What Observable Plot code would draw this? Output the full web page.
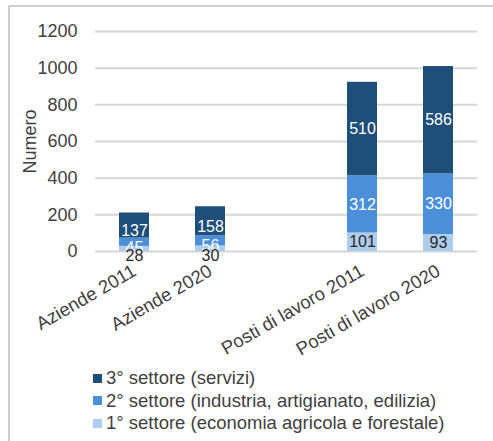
<!DOCTYPE html>
<html>
<head>
<meta charset="utf-8">
<script src="https://cdn.jsdelivr.net/npm/d3@7"></script>
<script src="https://cdn.jsdelivr.net/npm/@observablehq/plot@0.6"></script>
<style>
  html, body { margin: 0; padding: 0; background: #fff; }
  body { width: 493px; height: 441px; position: relative; overflow: hidden; font-family: "Liberation Sans", Arial, sans-serif; }
  #frame { position: absolute; left: 8px; top: 5px; width: 520px; height: 460px; border: 2px solid #cdcdcd; box-sizing: border-box; }
  #chart { position: absolute; left: 0; top: 0; }
  #chart svg { overflow: visible; }
  #chart svg text { font-family: "Liberation Sans", Arial, sans-serif; }
  #legend { position: absolute; left: 93px; top: 367px; font-size: 18.5px; color: #404040; }
  #legend .row { display: flex; align-items: center; height: 22.5px; line-height: 22.5px; white-space: nowrap; }
  #legend .sw { width: 9px; height: 9px; margin-right: 4px; flex: none; }
</style>
</head>
<body>
<div id="frame"></div>
<div id="chart"></div>
<div id="legend"></div>
<script>
// ---- data ----
const categories = ["Aziende 2011", "Aziende 2020", "Posti di lavoro 2011", "Posti di lavoro 2020"];
const sectors = [
  "1° settore (economia agricola e forestale)",
  "2° settore (industria, artigianato, edilizia)",
  "3° settore (servizi)"
];
const settore1 = [28, 30, 101, 93];
const settore2 = [45, 56, 312, 330];
const settore3 = [137, 158, 510, 586];
const yTicks = [0, 200, 400, 600, 800, 1000, 1200];
const colors = ["#aecdee", "#4a8fd8", "#1f4e79"];
const labelColors = ["#262626", "#ffffff", "#ffffff"];

// ---- build table ----
const series = [settore1, settore2, settore3];
const rows = [];
series.forEach((vals, si) => {
  vals.forEach((v, ci) => rows.push({cat: categories[ci], sector: sectors[si], si, value: v}));
});

const GAP = "__gap__";
const xDomain = [categories[0], categories[1], GAP, categories[2], categories[3]];
const font = "Liberation Sans";

const pxPerUnit = (251 - 31) / 1200;
// bottom labels on very thin segments sit a little lower (as in the reference)
const small = d => d.si === 0 && d.value * pxPerUnit < 14;

const chart = Plot.plot({
  width: 493,
  height: 380,
  marginTop: 31,
  marginBottom: 129,
  marginLeft: 95,
  marginRight: 16,
  style: {fontFamily: font, fontSize: "18px", color: "#404040", background: "transparent", overflow: "visible"},
  x: {domain: xDomain, paddingInner: 0.607, paddingOuter: 0.303},
  y: {domain: [0, 1200]},
  color: {domain: sectors, range: colors},
  marks: [
    Plot.gridY(yTicks, {stroke: "#d6d6d6", strokeOpacity: 1, strokeWidth: 2}),
    Plot.barY(rows, {x: "cat", y: "value", z: "sector", fill: "sector", order: sectors}),
    Plot.text(rows, Plot.stackY({
      x: "cat", y: "value", z: "sector", order: sectors,
      text: d => String(d.value),
      fill: d => labelColors[d.si],
      filter: d => !small(d),
      fontSize: 16, fontFamily: font
    })),
    Plot.text(rows, Plot.stackY({
      x: "cat", y: "value", z: "sector", order: sectors,
      text: d => String(d.value),
      fill: d => labelColors[d.si],
      filter: small,
      fontSize: 16, fontFamily: font,
      dy: 7
    })),
    Plot.axisY(yTicks, {
      tickSize: 0, tickPadding: 18, fontSize: 18, fontFamily: font, tickFormat: d => String(d),
      label: "Numero", labelAnchor: "center", labelArrow: "none", labelOffset: 72
    }),
    Plot.axisX({
      tickSize: 0, tickPadding: 18, tickRotate: -30, fontSize: 18.5, fontFamily: font,
      tickFormat: d => d === GAP ? "" : d, label: null
    })
  ]
});
document.getElementById("chart").appendChild(chart);

// ---- legend (top to bottom: 3°, 2°, 1°) ----
const legend = document.getElementById("legend");
for (let i = sectors.length - 1; i >= 0; i--) {
  const row = document.createElement("div");
  row.className = "row";
  const sw = document.createElement("span");
  sw.className = "sw";
  sw.style.background = colors[i];
  const t = document.createElement("span");
  t.textContent = sectors[i];
  row.appendChild(sw);
  row.appendChild(t);
  legend.appendChild(row);
}
</script>
</body>
</html>
